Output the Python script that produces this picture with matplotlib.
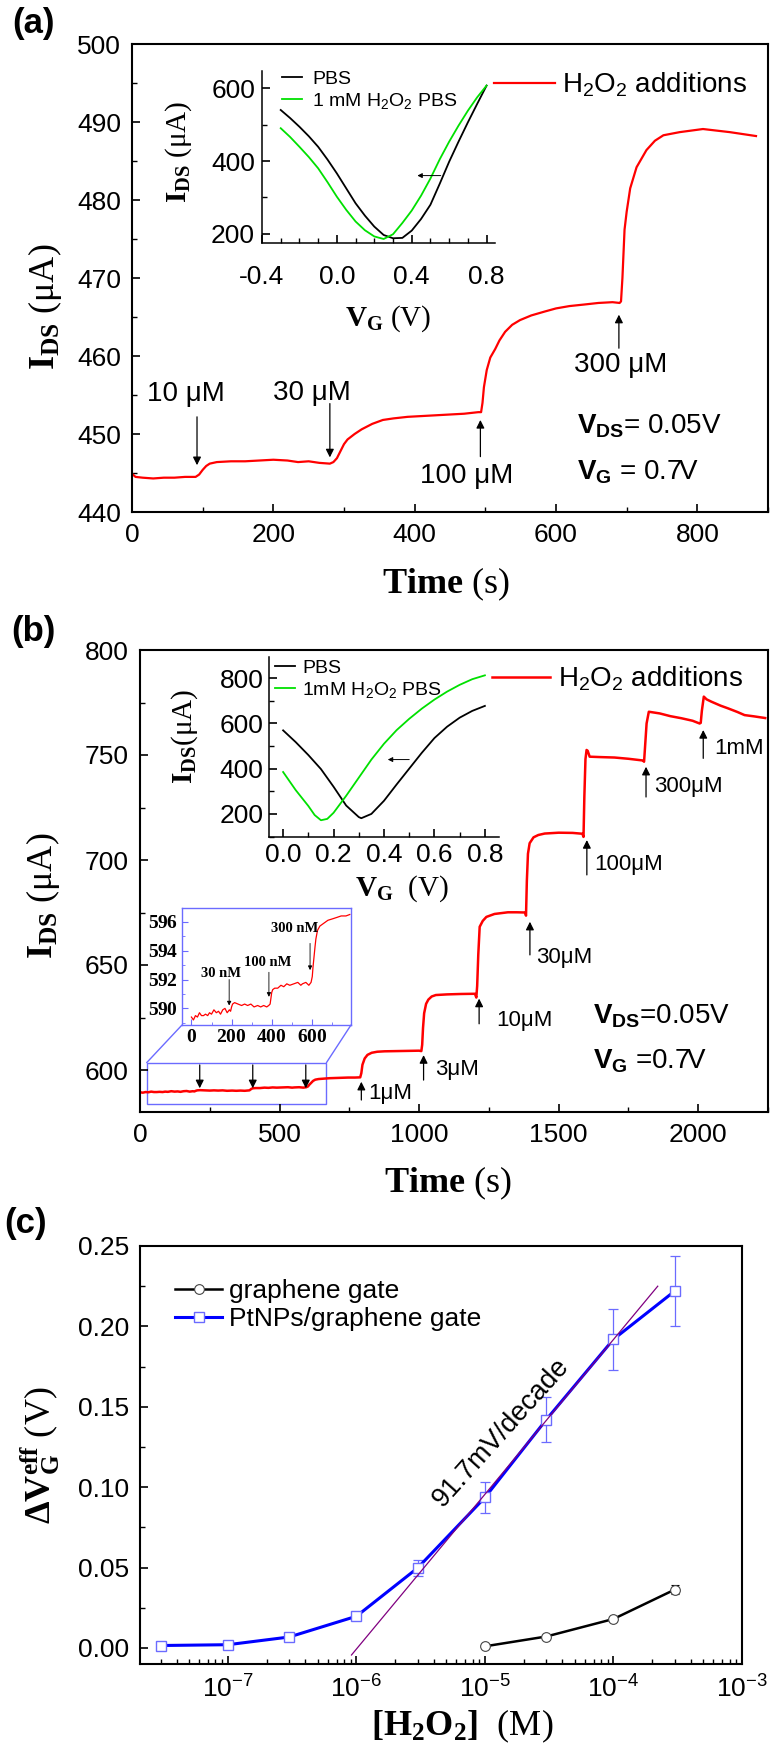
import matplotlib as mpl
import matplotlib.pyplot as plt
import numpy as np
from matplotlib.patches import Rectangle, ConnectionPatch
from matplotlib.lines import Line2D
from matplotlib.ticker import MultipleLocator, LogLocator, NullFormatter, FuncFormatter, FormatStrFormatter

# ---------------- data ----------------
# (a) I_DS vs time, H2O2 additions
a_t = [0, 5, 15, 30, 45, 60, 75, 90, 95, 100, 105, 110, 120, 140, 160, 180, 200, 220, 235, 250, 265,
       280, 285, 290, 295, 300, 305, 315, 325, 340, 355, 370, 390, 410, 430, 450, 470, 490, 494, 496,
       498, 502, 507, 514, 520, 528, 538, 549, 565, 584, 600, 619, 640, 660, 680, 690, 692, 694, 697,
       700, 705, 714, 728, 740, 752, 775, 808, 846, 883]
a_i = [444.9, 444.5, 444.4, 444.3, 444.4, 444.4, 444.5, 444.5, 444.8, 445.4, 445.9, 446.2, 446.4, 446.5,
       446.5, 446.6, 446.7, 446.6, 446.4, 446.5, 446.3, 446.2, 446.4, 446.9, 447.8, 448.7, 449.3, 450.0,
       450.6, 451.3, 451.8, 452.0, 452.2, 452.3, 452.4, 452.5, 452.6, 452.8, 452.8, 454.0, 456.0, 458.2,
       459.8, 460.9, 462.0, 463.1, 464.0, 464.6, 465.2, 465.7, 466.1, 466.4, 466.6, 466.8, 466.9, 466.8,
       467.0, 470.0, 476.2, 478.5, 481.5, 484.2, 486.4, 487.6, 488.3, 488.7, 489.1, 488.7, 488.2]
a_labels = ["10 μM", "30 μM", "100 μM", "300 μM"]
a_label_t = [76, 254, 474, 691]
a_label_i = [455.1, 455.3, 444.6, 458.8]
a_arrow_t = [92, 280, 493, 689]
a_arrow_from = [452.2, 453.9, 447.1, 461.0]
a_arrow_to = [446.0, 447.0, 451.8, 465.3]

# (a) inset: transfer curves
vg_a = [-0.3, -0.25, -0.2, -0.15, -0.1, -0.05, 0.0, 0.05, 0.1, 0.15, 0.2, 0.25, 0.3, 0.35, 0.4,
        0.45, 0.5, 0.55, 0.6, 0.65, 0.7, 0.75, 0.8]
ids_a_pbs = [540, 518, 494, 468, 439, 404, 366, 325, 284, 250, 220, 197, 188, 189, 209, 241, 280,
             338, 398, 453, 506, 557, 607]
ids_a_h2o2 = [490, 466, 439, 411, 380, 342, 302, 266, 234, 210, 193, 186, 199, 230, 264, 305, 352,
              405, 453, 497, 538, 575, 607]

# (b) I_DS vs time: nM part (also shown in small inset) and uM part
nm_t = [0, 10, 20, 30, 40, 50, 60, 70, 81, 90, 100, 112, 124, 135, 145, 156, 167, 178, 189, 195, 200,
        205, 215, 232, 250, 265, 280, 296, 312, 330, 345, 360, 375, 385, 392, 396, 400, 405, 415, 430,
        446, 460, 475, 490, 510, 530, 545, 553, 570, 585, 596, 602, 606, 611, 616, 620, 628, 640, 650,
        660, 680, 703, 725, 746, 770, 789]
nm_i = [589.4, 589.2, 589.5, 589.4, 589.7, 589.5, 589.5, 589.6, 589.5, 589.7, 589.6, 589.9, 589.7,
        589.8, 589.6, 589.9, 590.0, 589.7, 589.9, 589.8, 590.1, 590.3, 590.4, 590.3, 590.2, 590.3,
        590.2, 590.3, 590.1, 590.2, 590.1, 590.2, 590.1, 590.2, 590.3, 590.7, 591.1, 591.3, 591.4,
        591.4, 591.6, 591.5, 591.7, 591.6, 591.7, 591.8, 591.6, 591.7, 591.8, 591.6, 591.8, 592.2,
        592.9, 593.6, 594.3, 594.8, 595.4, 595.7, 595.8, 595.9, 596.1, 596.2, 596.3, 596.4, 596.4, 596.5]
um_t = [793, 797, 805, 815, 830, 850, 876, 920, 960, 1000, 1008, 1011, 1014, 1018, 1025, 1033, 1045,
        1060, 1100, 1150, 1200, 1205, 1208, 1212, 1217, 1228, 1241, 1270, 1318, 1350, 1380, 1383,
        1386, 1390, 1396, 1410, 1427, 1450, 1500, 1550, 1585, 1589, 1592, 1596, 1600, 1604, 1611,
        1650, 1700, 1750, 1801, 1806, 1810, 1815, 1823, 1862, 1900, 1940, 1980, 2005, 2009, 2013,
        2020, 2030, 2047, 2080, 2107, 2140, 2166, 2200, 2240]
um_i = [598.5, 602.5, 605.5, 607.2, 608.2, 608.7, 608.9, 609.0, 609.1, 609.2, 609.0, 612.0, 620.0,
        627.0, 631.5, 633.5, 635.0, 635.7, 636.0, 636.2, 636.3, 634.5, 640.0, 655.0, 668.2, 671.0,
        672.9, 674.3, 675.1, 675.1, 675.0, 673.5, 690.0, 703.0, 708.0, 710.8, 711.9, 712.6, 713.0,
        712.9, 712.5, 711.0, 730.0, 748.0, 752.4, 752.0, 749.2, 749.0, 748.8, 748.2, 747.4, 746.8,
        755.0, 765.0, 770.6, 769.8, 768.5, 767.5, 766.3, 765.0, 765.3, 771.0, 777.8, 776.5, 775.4,
        773.5, 772.2, 770.5, 769.0, 768.4, 767.6]
b_labels = ["1μM", "3μM", "10μM", "30μM", "100μM", "300μM", "1mM"]
b_label_t = [818, 1057, 1275, 1420, 1629, 1843, 2057]
b_label_i = [588.9, 600.0, 623.8, 653.5, 698.0, 734.9, 753.2]
b_arrow_t = [793, 1016, 1215, 1397, 1601, 1813, 2018]
b_arrow_from = [585.7, 595.2, 622.0, 654.8, 692.9, 730.0, 748.4]
b_arrow_to = [594.4, 607.1, 634.0, 670.6, 709.5, 744.4, 761.9]
nm_arrow_t = [214, 404, 594]
nm_labels = ["30 nM", "100 nM", "300 nM"]
nm_label_t = [146, 381, 515]
nm_label_i = [592.4, 593.2, 595.5]
nm_small_arrow_t = [188, 386, 591]
nm_small_from = [592.0, 592.5, 594.5]
nm_small_to = [590.2, 590.8, 592.65]
zoom_t = [24, 668]
zoom_i = [583.8, 603.5]

# (b) inset: transfer curves
vg_b_pbs = [0.0, 0.05, 0.1, 0.15, 0.2, 0.25, 0.3, 0.31, 0.35, 0.4, 0.45, 0.5, 0.55, 0.6, 0.65, 0.7,
            0.75, 0.8]
ids_b_pbs = [569, 517, 460, 398, 320, 237, 186, 181, 200, 258, 330, 400, 470, 535, 585, 625, 655, 677]
vg_b_h2o2 = [0.0, 0.05, 0.1, 0.125, 0.15, 0.175, 0.2, 0.25, 0.3, 0.35, 0.4, 0.45, 0.5, 0.55, 0.6,
             0.65, 0.7, 0.75, 0.8]
ids_b_h2o2 = [385, 305, 235, 195, 172, 178, 205, 280, 360, 440, 510, 570, 620, 665, 705, 740, 770,
              795, 812]

# (c) calibration
conc_pt = [3e-8, 1e-7, 3e-7, 1e-6, 3e-6, 1e-5, 3e-5, 1e-4, 3e-4]
dv_pt = [0.0015, 0.002, 0.0068, 0.0197, 0.0498, 0.0936, 0.142, 0.192, 0.222]
err_pt = [0.0012, 0.0012, 0.0015, 0.002, 0.0048, 0.0095, 0.014, 0.019, 0.022]
conc_gr = [1e-5, 3e-5, 1e-4, 3e-4]
dv_gr = [0.001, 0.0071, 0.018, 0.0363]
err_gr = [0.001, 0.001, 0.0015, 0.003]
fit_conc = [9.15e-7, 2.21e-4]
fit_dv = [-0.0044, 0.225]

# ---------------- style ----------------
W, H = 777, 1750
mpl.rcParams.update({
    "font.family": "Liberation Sans",
    "mathtext.fontset": "custom",
    "mathtext.rm": "Liberation Sans",
    "mathtext.sf": "Liberation Sans",
    "mathtext.it": "Liberation Sans:italic",
    "mathtext.bf": "Liberation Sans:bold",
    "mathtext.cal": "Liberation Serif:bold",
    "axes.unicode_minus": False,
    "legend.frameon": False,
})

RED = "#ff0000"
GREEN = "#00e000"
BLUE = "#0000ff"
LBLUE = "#6b6bff"


def px_rect(l, t, r, b):
    return [l / W, 1 - b / H, (r - l) / W, (b - t) / H]


def style_ax(ax, lw=1.5, inset=False, size=19):
    for s in ax.spines.values():
        s.set_linewidth(lw)
    if inset:
        ax.spines["top"].set_visible(False)
        ax.spines["right"].set_visible(False)
    ax.tick_params(which="both", direction="in", top=False, right=False, labelsize=size)
    ax.tick_params(which="major", length=6, width=1.2)
    ax.tick_params(which="minor", length=3.5, width=1.0)


def arrow(ax, x, y0, y1, lw=0.9, ms=12):
    ax.annotate("", xy=(x, y1), xytext=(x, y0),
                arrowprops=dict(arrowstyle="-|>", color="k", lw=lw,
                                shrinkA=0, shrinkB=0, mutation_scale=ms))


fig = plt.figure(figsize=(W / 100, H / 100), dpi=100)

# ---------------- (a) ----------------
ax_a = fig.add_axes(px_rect(132, 44, 768, 512))
style_ax(ax_a)
ax_a.plot(a_t, a_i, color=RED, lw=1.6, label="H$_2$O$_2$ additions")
ax_a.set_xlim(0, 900)
ax_a.set_ylim(440, 500)
ax_a.xaxis.set_major_locator(MultipleLocator(200))
ax_a.xaxis.set_minor_locator(MultipleLocator(100))
ax_a.yaxis.set_major_locator(MultipleLocator(10))
ax_a.yaxis.set_minor_locator(MultipleLocator(5))
ax_a.tick_params(axis="both", which="major", pad=8)
ax_a.set_xlabel(r"$\mathcal{Time}$ (s)", fontsize=26, family="Liberation Serif")
ax_a.xaxis.set_label_coords(0.494, -0.115)
ax_a.set_ylabel(r"$\mathcal{I_{DS}}$ (μA)", fontsize=26, family="Liberation Serif")
ax_a.yaxis.set_label_coords(-0.107, 0.438)
for lab, t, i in zip(a_labels, a_label_t, a_label_i):
    ax_a.text(t, i, lab, fontsize=20, ha="center", va="center")
for t, y0, y1 in zip(a_arrow_t, a_arrow_from, a_arrow_to):
    arrow(ax_a, t, y0, y1)
ax_a.text(630, 451.0, r"$\mathbf{V_{DS}}$= 0.05V", fontsize=20, va="center")
ax_a.text(630, 445.1, r"$\mathbf{V_G}$ = 0.7V", fontsize=20, va="center")
ax_a.legend(loc="center left", bbox_to_anchor=(0.569, 0.912), fontsize=20, handlelength=2.2,
            handletextpad=0.25, borderpad=0, borderaxespad=0)

ins_a = fig.add_axes(px_rect(262, 71, 495, 243))
ins_a.patch.set_alpha(0)
style_ax(ins_a, lw=1.1, inset=True)
ins_a.plot(vg_a, ids_a_pbs, color="k", lw=1.3, label="PBS")
ins_a.plot(vg_a, ids_a_h2o2, color=GREEN, lw=1.3, label="1 mM H$_2$O$_2$ PBS")
ins_a.set_xlim(-0.4, 0.845)
ins_a.set_ylim(175, 647)
ins_a.xaxis.set_major_locator(MultipleLocator(0.4))
ins_a.xaxis.set_minor_locator(MultipleLocator(0.1))
ins_a.yaxis.set_major_locator(MultipleLocator(200))
ins_a.yaxis.set_minor_locator(MultipleLocator(100))
ins_a.xaxis.set_major_formatter(FormatStrFormatter("%.1f"))
ins_a.tick_params(axis="x", which="major", pad=16)
ins_a.tick_params(axis="y", which="major", pad=5)
ins_a.set_xlabel(r"$\mathcal{V_G}$ (V)", fontsize=21, family="Liberation Serif")
ins_a.xaxis.set_label_coords(0.54, -0.35)
ins_a.set_ylabel(r"$\mathcal{I_{DS}}$ (μA)", fontsize=21, family="Liberation Serif")
ins_a.yaxis.set_label_coords(-0.29, 0.53)
ins_a.annotate("", xy=(0.43, 360), xytext=(0.555, 360),
               arrowprops=dict(arrowstyle="-|>", color="k", lw=0.7, shrinkA=0, shrinkB=0,
                               mutation_scale=7))
ins_a.legend(loc="center left", bbox_to_anchor=(0.086, 0.884), fontsize=14, handlelength=1.05,
             handletextpad=0.5, labelspacing=0.15, borderpad=0, borderaxespad=0)

# ---------------- (b) ----------------
ax_b = fig.add_axes(px_rect(140, 650, 768, 1112))
style_ax(ax_b)
ax_b.plot(nm_t + um_t, nm_i + um_i, color=RED, lw=1.8, label="H$_2$O$_2$ additions")
ax_b.set_xlim(0, 2250)
ax_b.set_ylim(580, 800)
ax_b.xaxis.set_major_locator(MultipleLocator(500))
ax_b.xaxis.set_minor_locator(MultipleLocator(250))
ax_b.yaxis.set_major_locator(MultipleLocator(50))
ax_b.yaxis.set_minor_locator(MultipleLocator(25))
ax_b.tick_params(axis="both", which="major", pad=8)
ax_b.set_xlabel(r"$\mathcal{Time}$ (s)", fontsize=26, family="Liberation Serif")
ax_b.xaxis.set_label_coords(0.491, -0.115)
ax_b.set_ylabel(r"$\mathcal{I_{DS}}$ (μA)", fontsize=26, family="Liberation Serif")
ax_b.yaxis.set_label_coords(-0.124, 0.468)
for lab, t, i in zip(b_labels, b_label_t, b_label_i):
    ax_b.text(t, i, lab, fontsize=16, ha="left", va="center")
for t, y0, y1 in zip(b_arrow_t, b_arrow_from, b_arrow_to):
    arrow(ax_b, t, y0, y1)
for t in nm_arrow_t:
    arrow(ax_b, t, 602.4, 591.3)
ax_b.text(1622, 625.4, r"$\mathbf{V_{DS}}$=0.05V", fontsize=20, va="center")
ax_b.text(1622, 604.0, r"$\mathbf{V_G}$ =0.7V", fontsize=20, va="center")
ax_b.add_patch(Rectangle((zoom_t[0], zoom_i[0]), zoom_t[1] - zoom_t[0], zoom_i[1] - zoom_i[0],
                         fill=False, ec=LBLUE, lw=1.0))
ax_b.legend(loc="center left", bbox_to_anchor=(0.560, 0.937), fontsize=20, handlelength=2.1,
            handletextpad=0.3, borderpad=0, borderaxespad=0)

ins_b = fig.add_axes(px_rect(269, 657, 499, 837))
ins_b.patch.set_alpha(0)
style_ax(ins_b, lw=1.1, inset=True)
ins_b.plot(vg_b_pbs, ids_b_pbs, color="k", lw=1.3, label="PBS")
ins_b.plot(vg_b_h2o2, ids_b_h2o2, color=GREEN, lw=1.3, label="1mM H$_2$O$_2$ PBS")
ins_b.set_xlim(-0.056, 0.856)
ins_b.set_ylim(98, 893)
ins_b.xaxis.set_major_locator(MultipleLocator(0.2))
ins_b.xaxis.set_minor_locator(MultipleLocator(0.1))
ins_b.yaxis.set_major_locator(MultipleLocator(200))
ins_b.yaxis.set_minor_locator(MultipleLocator(100))
ins_b.xaxis.set_major_formatter(FormatStrFormatter("%.1f"))
ins_b.tick_params(axis="both", which="major", pad=4)
ins_b.set_xlabel(r"$\mathcal{V_G}$  (V)", fontsize=21, family="Liberation Serif")
ins_b.xaxis.set_label_coords(0.577, -0.2)
ins_b.set_ylabel(r"$\mathcal{I_{DS}}$(μA)", fontsize=21, family="Liberation Serif")
ins_b.yaxis.set_label_coords(-0.30, 0.56)
ins_b.annotate("", xy=(0.415, 440), xytext=(0.50, 440),
               arrowprops=dict(arrowstyle="-|>", color="k", lw=0.7, shrinkA=0, shrinkB=0,
                               mutation_scale=7))
ins_b.legend(loc="center left", bbox_to_anchor=(0.026, 0.875), fontsize=14, handlelength=1.05,
             handletextpad=0.35, labelspacing=0.15, borderpad=0, borderaxespad=0)

ins_b2 = fig.add_axes(px_rect(182, 908, 351, 1025))
for s in ins_b2.spines.values():
    s.set_color(LBLUE)
    s.set_linewidth(1.0)
ins_b2.plot(nm_t, nm_i, color=RED, lw=0.9)
ins_b2.set_xlim(-47, 795)
ins_b2.set_ylim(588.85, 596.95)
ins_b2.xaxis.set_major_locator(MultipleLocator(200))
ins_b2.xaxis.set_minor_locator(MultipleLocator(100))
ins_b2.yaxis.set_major_locator(MultipleLocator(2))
ins_b2.yaxis.set_minor_locator(MultipleLocator(1))
bold_serif = FuncFormatter(lambda v, p: r"$\mathcal{%d}$" % round(v))
ins_b2.xaxis.set_major_formatter(bold_serif)
ins_b2.yaxis.set_major_formatter(bold_serif)
ins_b2.tick_params(which="both", direction="in", top=False, right=False, labelsize=14,
                   color=LBLUE, pad=3)
ins_b2.tick_params(which="major", length=4, width=0.8)
ins_b2.tick_params(which="minor", length=2.5, width=0.6)
for lab, t, i in zip(nm_labels, nm_label_t, nm_label_i):
    ins_b2.text(t, i, lab, fontsize=10.5, family="Liberation Serif", fontweight="bold",
                ha="center", va="center")
for t, y0, y1 in zip(nm_small_arrow_t, nm_small_from, nm_small_to):
    arrow(ins_b2, t, y0, y1, lw=0.6, ms=6)
for xa, xb in [(0, zoom_t[0]), (1, zoom_t[1])]:
    fig.add_artist(ConnectionPatch(xyA=(xa, 0), coordsA=ins_b2.transAxes,
                                   xyB=(xb, zoom_i[1]), coordsB=ax_b.transData,
                                   color=LBLUE, lw=1.0))

# ---------------- (c) ----------------
ax_c = fig.add_axes(px_rect(140, 1246, 742, 1664))
style_ax(ax_c)
ax_c.set_xscale("log")
ax_c.errorbar(conc_gr, dv_gr, yerr=err_gr, fmt="none", ecolor="k", elinewidth=0.8, capsize=3,
              capthick=0.8, zorder=2)
ax_c.errorbar(conc_pt, dv_pt, yerr=err_pt, fmt="none", ecolor=LBLUE, elinewidth=0.9, capsize=3.5,
              capthick=0.9, zorder=2)
ax_c.plot(conc_gr, dv_gr, color="k", lw=1.8, marker="o", ms=7, mfc="white", mec="#444444",
          mew=0.8, label="graphene gate", zorder=3)
ax_c.plot(conc_pt, dv_pt, color=BLUE, lw=2.2, marker="s", ms=6.5, mfc="white", mec=LBLUE,
          mew=1.0, label="PtNPs/graphene gate", zorder=3)
ax_c.plot(fit_conc, fit_dv, color="#800080", lw=0.9, zorder=4)
ax_c.text(1.345e-5, 0.134, "91.7mV/decade", fontsize=19.5, rotation=48, ha="center", va="center")
ax_c.set_xlim(2.07e-8, 1e-3)
ax_c.set_ylim(-0.01, 0.25)
ax_c.xaxis.set_major_locator(LogLocator(base=10, numticks=12))
ax_c.xaxis.set_minor_locator(LogLocator(base=10, subs=np.arange(2, 10), numticks=12))
ax_c.xaxis.set_minor_formatter(NullFormatter())
ax_c.xaxis.set_major_formatter(FuncFormatter(lambda v, p: r"$10^{%d}$" % round(np.log10(v))))
ax_c.yaxis.set_major_locator(MultipleLocator(0.05))
ax_c.yaxis.set_minor_locator(MultipleLocator(0.025))
ax_c.yaxis.set_major_formatter(FormatStrFormatter("%.2f"))
ax_c.tick_params(axis="both", which="major", pad=8)
ax_c.set_xlabel(r"$\mathcal{[H_2O_2]}$  (M)", fontsize=26, family="Liberation Serif")
ax_c.xaxis.set_label_coords(0.535, -0.105)
ax_c.set_ylabel(r"$\mathcal{ΔV_G^{eff}}$ (V)", fontsize=26, family="Liberation Serif")
ax_c.yaxis.set_label_coords(-0.13, 0.5)
ax_c.legend(loc="center left", bbox_to_anchor=(0.058, 0.859), fontsize=19, handlelength=1.8,
            handletextpad=0.25, labelspacing=0.15, borderpad=0, borderaxespad=0, numpoints=1)

# panel letters
for lab, x, y in [("(a)", 34, 23), ("(b)", 33, 631), ("(c)", 26, 1224)]:
    fig.text(x / W, 1 - y / H, lab, fontsize=25, fontweight="bold", ha="center", va="center")

fig.savefig("out.png", dpi=100)
